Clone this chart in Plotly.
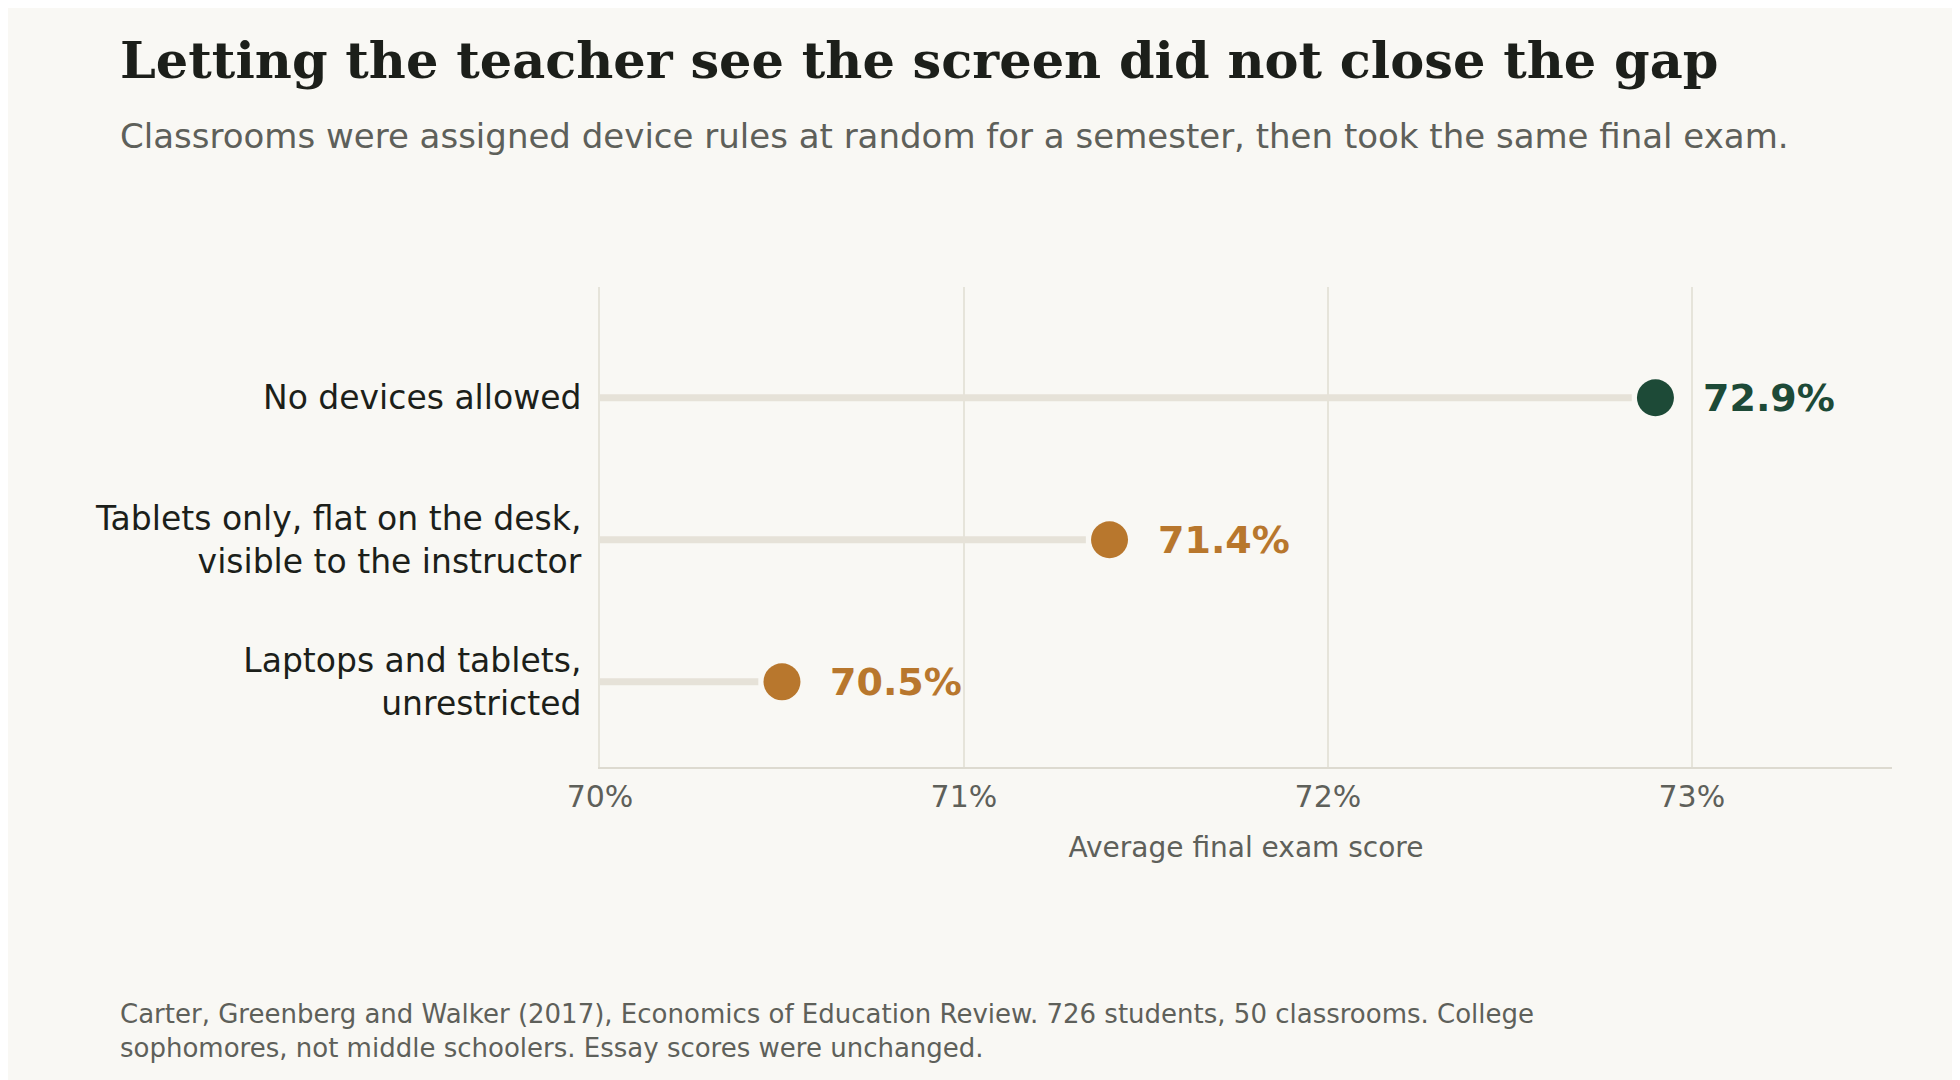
import plotly.graph_objects as go

categories = ["No devices allowed", "Tablets only, flat on the desk,<br>visible to the instructor", "Laptops and tablets,<br>unrestricted"]
scores = [72.9, 71.4, 70.5]
labels = ["72.9%", "71.4%", "70.5%"]
colors = ["#1d4a37", "#b8772d", "#b8772d"]
ticks = [70, 71, 72, 73]
tick_labels = ["70%", "71%", "72%", "73%"]

fig = go.Figure()
ys = list(range(len(categories)))
for y, s in zip(ys, scores):
    fig.add_trace(go.Scatter(x=[70, s - 0.065], y=[y, y], mode="lines",
                             line=dict(color="#e6e2d8", width=7), hoverinfo="skip", showlegend=False))
fig.add_trace(go.Scatter(x=scores, y=ys, mode="markers",
                         marker=dict(size=37, color=colors), showlegend=False))
for y, s, l, c in zip(ys, scores, labels, colors):
    fig.add_annotation(x=s, y=y, text=l, showarrow=False, xanchor="left", xshift=46,
                       font=dict(family="DejaVu Sans", size=38, color=c, weight="bold"))

fig.add_annotation(xref="paper", yref="paper", x=-0.373, y=1.472, xanchor="left", yanchor="middle",
                   text="<b>Letting the teacher see the screen did not close the gap</b>", showarrow=False,
                   font=dict(family="DejaVu Serif", size=51, color="#1c1f1a"))
fig.add_annotation(xref="paper", yref="paper", x=-0.373, y=1.314, xanchor="left", yanchor="middle",
                   text="Classrooms were assigned device rules at random for a semester, then took the same final exam.",
                   showarrow=False, font=dict(family="DejaVu Sans", size=34, color="#5e605a"))
fig.add_annotation(xref="paper", yref="paper", x=-0.373, y=-0.549, xanchor="left", yanchor="middle", align="left",
                   text="Carter, Greenberg and Walker (2017), Economics of Education Review. 726 students, 50 classrooms. College<br>sophomores, not middle schoolers. Essay scores were unchanged.",
                   showarrow=False, font=dict(family="DejaVu Sans", size=26, color="#5e605a"))

fig.update_layout(
    width=1960, height=1080, paper_bgcolor="#f9f8f4", plot_bgcolor="#f9f8f4",
    margin=dict(l=592, r=76, t=279, b=321),
    xaxis=dict(range=[70, 73.55], tickvals=ticks, ticktext=tick_labels, showgrid=True,
               gridcolor="#e6e4da", gridwidth=2, zeroline=False, showline=True, linecolor="#dddad0",
               linewidth=2, ticks="", ticklabelstandoff=2,
               tickfont=dict(family="DejaVu Sans", size=30, color="#5e605a"),
               title=dict(text="Average final exam score", standoff=24,
                          font=dict(family="DejaVu Sans", size=28, color="#5e605a"))),
    yaxis=dict(range=[2.6, -0.78], tickvals=ys, ticktext=categories, showgrid=False, zeroline=False,
               showline=True, linecolor="#e6e4da", linewidth=2, ticks="", ticklabelstandoff=10,
               tickfont=dict(family="DejaVu Sans", size=33, color="#1c1f1a")),
)
fig.write_html("out.html")
